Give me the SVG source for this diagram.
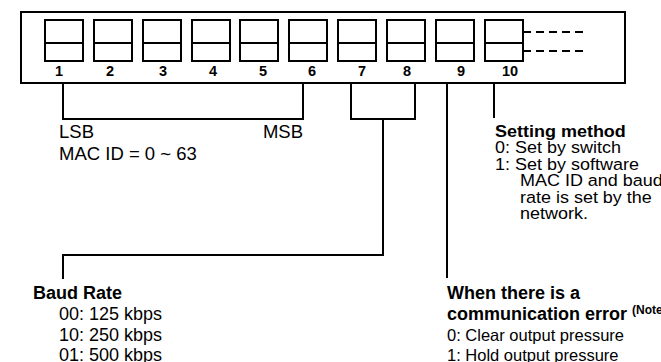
<svg xmlns="http://www.w3.org/2000/svg" width="661" height="362" viewBox="0 0 661 362">
<style>
.ln{fill:none;stroke:#000;stroke-width:2}
.sw{fill:#fff;stroke:#000;stroke-width:2}
.dash{fill:none;stroke:#000;stroke-width:2;stroke-dasharray:8 5}
.num{font-family:"Liberation Sans",Arial,sans-serif;font-weight:bold;font-size:14.5px;text-anchor:middle}
.t{font-family:"Liberation Sans",Arial,sans-serif;fill:#000}
.b{font-weight:bold}
.s185{font-size:18.5px}
.s18{font-size:18px}
.s165{font-size:16.5px}
.sup{font-family:"Liberation Sans",Arial,sans-serif;font-weight:bold;font-size:12px}
</style>
<defs>
<g id="switch">
<rect x="0" y="0" width="38" height="41" class="sw"/>
<line x1="0" y1="23" x2="38" y2="23" class="ln"/>
</g>
</defs>
<g id="board">
<rect x="21" y="12" width="604" height="71" class="sw"/>
<line x1="523" y1="32" x2="588" y2="32" class="dash"/>
<line x1="523" y1="51" x2="588" y2="51" class="dash"/>
</g>
<g id="sw1"><use href="#switch" x="45" y="20"/><text class="num" x="59" y="76">1</text></g>
<g id="sw2"><use href="#switch" x="94" y="20"/><text class="num" x="110" y="76">2</text></g>
<g id="sw3"><use href="#switch" x="143" y="20"/><text class="num" x="163" y="76">3</text></g>
<g id="sw4"><use href="#switch" x="192" y="20"/><text class="num" x="213" y="76">4</text></g>
<g id="sw5"><use href="#switch" x="240" y="20"/><text class="num" x="263" y="76">5</text></g>
<g id="sw6"><use href="#switch" x="289" y="20"/><text class="num" x="312" y="76">6</text></g>
<g id="sw7"><use href="#switch" x="338" y="20"/><text class="num" x="362" y="76">7</text></g>
<g id="sw8"><use href="#switch" x="387" y="20"/><text class="num" x="407" y="76">8</text></g>
<g id="sw9"><use href="#switch" x="436" y="20"/><text class="num" x="461" y="76">9</text></g>
<g id="sw10"><use href="#switch" x="485" y="20"/><text class="num" x="510" y="76">10</text></g>
<g id="connectors">
<polyline class="ln" points="63,83 63,119 303,119 303,83"/>
<polyline class="ln" points="351,83 351,119 415,119 415,83"/>
<polyline class="ln" points="383,119 383,255 63,255 63,279"/>
<line class="ln" x1="447" y1="83" x2="447" y2="278"/>
<line class="ln" x1="494" y1="83" x2="494" y2="118"/>
</g>
<g id="macid">
<text class="t s185" x="59" y="138">LSB</text>
<text class="t s185" x="303" y="138" text-anchor="end">MSB</text>
<text class="t s185" x="59" y="160">MAC ID = 0 ~ 63</text>
</g>
<g id="setting" transform="translate(495,0) scale(1.09,1)">
<text class="t b s165" x="0" y="137">Setting method</text>
<text class="t s165" x="0" y="153.4">0: Set by switch</text>
<text class="t s165" x="0" y="169.8">1: Set by software</text>
<text class="t s165" x="22.9" y="186.2">MAC ID and baud</text>
<text class="t s165" x="22.9" y="202.6">rate is set by the</text>
<text class="t s165" x="22.9" y="219">network.</text>
</g>
<g id="baud">
<text class="t b s18" x="33" y="299">Baud Rate</text>
<text class="t s18" x="59" y="320">00: 125 kbps</text>
<text class="t s18" x="59" y="341">10: 250 kbps</text>
<text class="t s18" x="59" y="361">01: 500 kbps</text>
</g>
<g id="commerr">
<text class="t b s18" x="447" y="299">When there is a</text>
<text class="t b s18" x="447" y="320">communication error <tspan class="sup" dy="-6">(Note</tspan></text>
<text class="t s165" x="447" y="341">0: Clear output pressure</text>
<text class="t s165" x="447" y="361">1: Hold output pressure</text>
</g>
</svg>
